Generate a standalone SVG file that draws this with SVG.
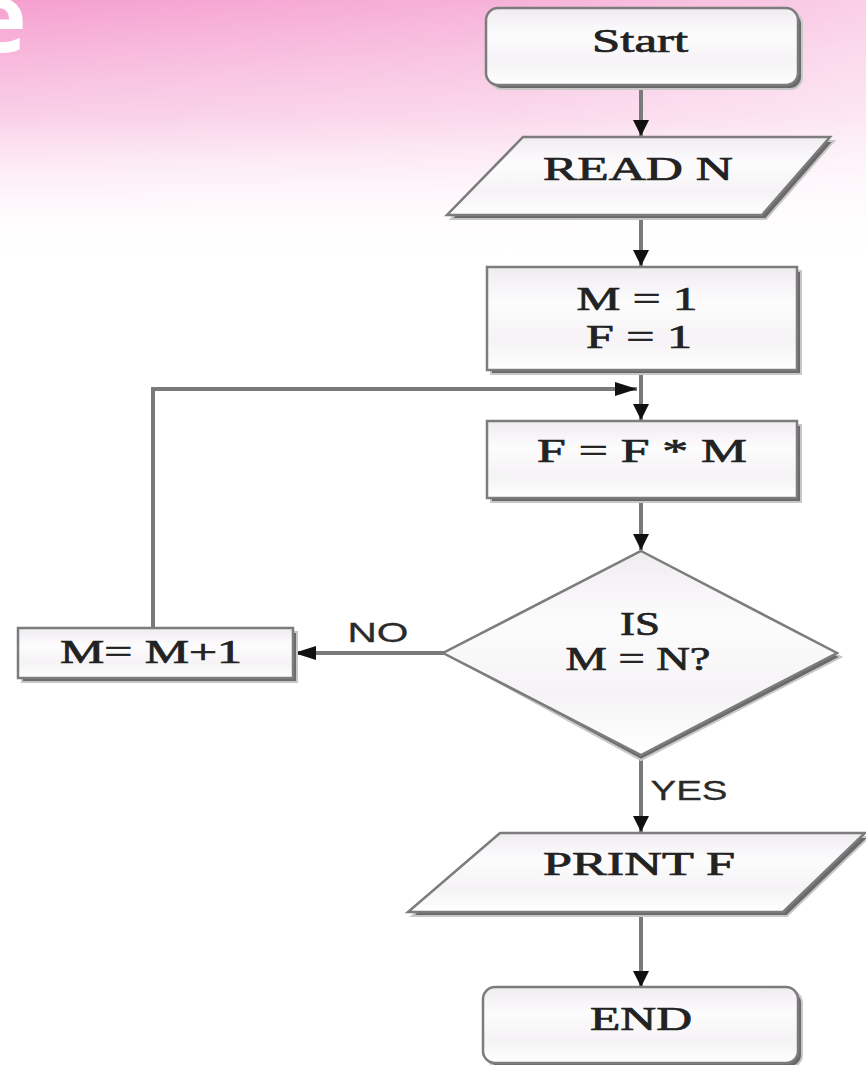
<svg xmlns="http://www.w3.org/2000/svg" width="866" height="1065" viewBox="0 0 866 1065">
<defs>
<linearGradient id="bgV" x1="0" y1="0" x2="0" y2="1">
<stop offset="0" stop-color="#f59fcf" stop-opacity="1"/>
<stop offset="0.45" stop-color="#f8c4e2" stop-opacity="0.8"/>
<stop offset="1" stop-color="#ffffff" stop-opacity="0"/>
</linearGradient>
<linearGradient id="bgH" x1="0" y1="0" x2="1" y2="0">
<stop offset="0" stop-color="#ffffff" stop-opacity="0"/>
<stop offset="0.6" stop-color="#ffffff" stop-opacity="0.2"/>
<stop offset="1" stop-color="#ffffff" stop-opacity="0.5"/>
</linearGradient>
<linearGradient id="fill" x1="0" y1="0" x2="0" y2="1">
<stop offset="0" stop-color="#efecf0"/>
<stop offset="0.35" stop-color="#fdfcfd"/>
<stop offset="0.7" stop-color="#f5f3f5"/>
<stop offset="1" stop-color="#ffffff"/>
</linearGradient>
<marker id="ah" viewBox="0 0 16 16" refX="16" refY="8" markerWidth="16" markerHeight="16" orient="auto" markerUnits="userSpaceOnUse">
<path d="M0,0 L16,8 L0,16 z" fill="#111"/>
</marker>
<marker id="ahh" viewBox="0 0 22 14" refX="22" refY="7" markerWidth="22" markerHeight="14" orient="auto" markerUnits="userSpaceOnUse">
<path d="M0,0 L22,7 L0,14 z" fill="#111"/>
</marker>
<style>
.sh{fill:#6a6a6a;stroke:#c8c8c8;stroke-width:2}
.nd{fill:url(#fill);stroke:#7c7c7c;stroke-width:2.5}
.t{font-family:"Liberation Serif","Times New Roman",serif;font-size:33px;fill:#222;stroke:#222;stroke-width:0.7;text-anchor:middle}
.lb{font-family:"Liberation Sans",Arial,sans-serif;font-size:28px;fill:#2a2a2a;stroke:#2a2a2a;stroke-width:0.3;text-anchor:middle}
.c{fill:none;stroke:#7a7a7a;stroke-width:4}
</style>
</defs>
<rect width="866" height="1065" fill="#ffffff"/>
<rect width="866" height="260" fill="url(#bgV)"/>
<rect width="866" height="260" fill="url(#bgH)"/>
<text x="-30" y="52" font-family="Open Sans, sans-serif" font-weight="bold" font-size="96" fill="#ffffff">e</text>

<g id="connectors">
<line class="c" x1="641" y1="87" x2="641" y2="136" marker-end="url(#ah)"/>
<line class="c" x1="641" y1="217" x2="641" y2="266" marker-end="url(#ah)"/>
<line class="c" x1="641" y1="372" x2="641" y2="420" marker-end="url(#ah)"/>
<line class="c" x1="641" y1="502" x2="641" y2="550" marker-end="url(#ah)"/>
<line class="c" x1="641" y1="756" x2="641" y2="832" marker-end="url(#ah)"/>
<line class="c" x1="641" y1="914" x2="641" y2="987" marker-end="url(#ah)"/>
<line class="c" x1="447" y1="653" x2="294" y2="653" marker-end="url(#ahh)"/>
<polyline class="c" points="153,628 153,389 637,389" marker-end="url(#ahh)"/>
</g>
<text class="lb" x="378" y="642" textLength="61" lengthAdjust="spacingAndGlyphs">NO</text>
<text class="lb" x="689" y="800" textLength="77" lengthAdjust="spacingAndGlyphs">YES</text>

<g id="start">
<rect class="sh" x="490" y="12" width="312" height="77" rx="12"/>
<rect class="nd" x="486" y="8" width="312" height="77" rx="12"/>
<text class="t" x="640" y="52" textLength="96" lengthAdjust="spacingAndGlyphs">Start</text>
</g>
<g id="readN">
<polygon class="sh" points="527,141 834,141 766,219 451,219"/>
<polygon class="nd" points="523,137 830,137 762,215 447,215"/>
<text class="t" x="638" y="180" textLength="190" lengthAdjust="spacingAndGlyphs">READ N</text>
</g>
<g id="init">
<rect class="sh" x="491" y="271" width="310" height="103"/>
<rect class="nd" x="487" y="267" width="310" height="103"/>
<text class="t" x="637" y="310" textLength="121" lengthAdjust="spacingAndGlyphs">M = 1</text>
<text class="t" x="639" y="348" textLength="106" lengthAdjust="spacingAndGlyphs">F = 1</text>
</g>
<g id="mult">
<rect class="sh" x="491" y="425" width="310" height="77"/>
<rect class="nd" x="487" y="421" width="310" height="77"/>
<text class="t" x="642" y="462" textLength="210" lengthAdjust="spacingAndGlyphs">F = F * M</text>
</g>
<g id="decision">
<polygon class="sh" points="641,557 841,657 641,760 452,657"/>
<polygon class="nd" points="641,551 837,653 641,755 443,653"/>
<text class="t" x="640" y="635" textLength="40" lengthAdjust="spacingAndGlyphs">IS</text>
<text class="t" x="638" y="670" textLength="145" lengthAdjust="spacingAndGlyphs">M = N?</text>
</g>
<g id="incr">
<rect class="sh" x="22" y="632" width="275" height="50"/>
<rect class="nd" x="18" y="628" width="275" height="50"/>
<text class="t" x="151" y="663" textLength="182" lengthAdjust="spacingAndGlyphs">M= M+1</text>
</g>
<g id="printF">
<polygon class="sh" points="504,837 869,837 787,916 412,916"/>
<polygon class="nd" points="500,833 865,833 783,912 408,912"/>
<text class="t" x="639" y="875" textLength="192" lengthAdjust="spacingAndGlyphs">PRINT F</text>
</g>
<g id="end">
<rect class="sh" x="487" y="991" width="315" height="76" rx="12"/>
<rect class="nd" x="483" y="987" width="315" height="76" rx="12"/>
<text class="t" x="641" y="1030" textLength="102" lengthAdjust="spacingAndGlyphs">END</text>
</g>
</svg>
